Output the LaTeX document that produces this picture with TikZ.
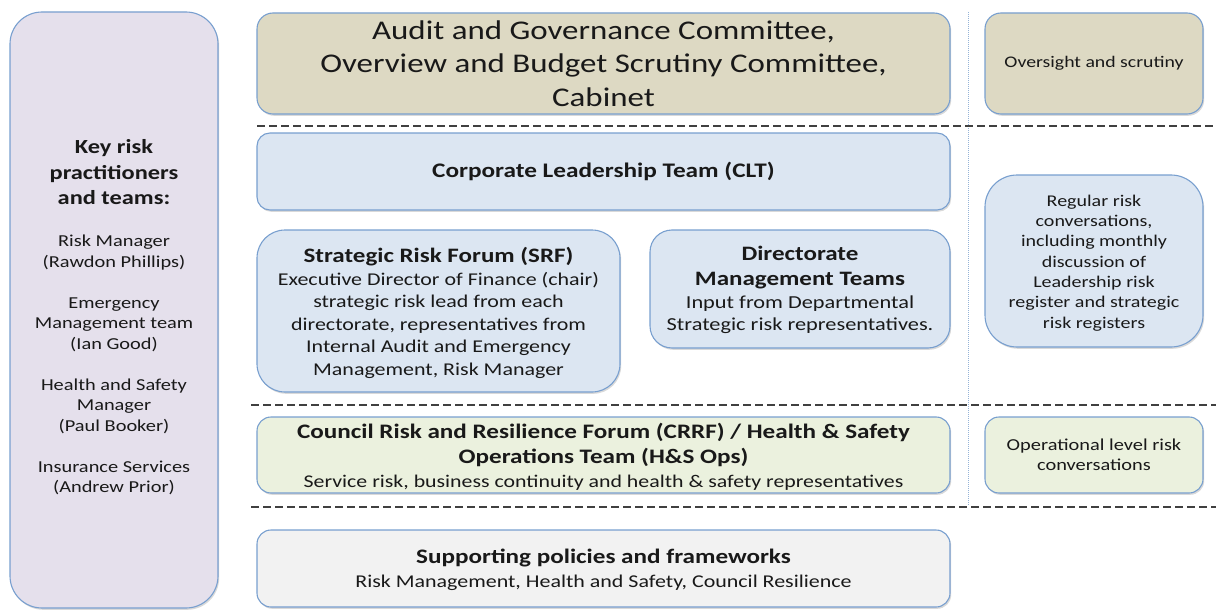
\documentclass[tikz,border=0pt]{standalone}
\usepackage{fontspec}
\setmainfont{Carlito}[FakeStretch=1.22]
\usetikzlibrary{shadows}
\definecolor{bordc}{HTML}{789FCF}
\definecolor{lavfill}{HTML}{E5E0EC}
\definecolor{tanfill}{HTML}{DDD9C3}
\definecolor{bluefill}{HTML}{DCE6F2}
\definecolor{greenfill}{HTML}{EBF1DE}
\definecolor{greyfill}{HTML}{F2F2F2}
\definecolor{dotc}{HTML}{95B3D7}
\tikzset{
  box/.style={draw=bordc, line width=1.1pt, align=flush center, inner sep=0pt,
    text=black!90,
    drop shadow={shadow xshift=1.2pt, shadow yshift=-1.8pt, opacity=0.25, fill=black!60}},
  sep/.style={draw=black!75, line width=1.2pt, dash pattern=on 8pt off 4pt},
  vsep/.style={draw=dotc, line width=1pt, dash pattern=on 1pt off 1pt},
}
\newcommand{\fs}[2]{\fontsize{#1}{#2}\selectfont}
\begin{document}
\begin{tikzpicture}[x=1pt,y=-1pt]
\useasboundingbox (0,0) rectangle (1216,610);
% separators
\coordinate (d1a) at (257,126); \coordinate (d1b) at (1216,126);
\coordinate (d2a) at (251,405); \coordinate (d2b) at (1216,405);
\coordinate (d3a) at (251,507); \coordinate (d3b) at (1216,507);
\coordinate (va) at (968,12); \coordinate (vb) at (968,505);
\draw[vsep] (va) -- (vb);
\draw[sep] (d1a) -- (d1b);
\draw[sep] (d2a) -- (d2b);
\draw[sep] (d3a) -- (d3b);
% left box
\node[box, fill=lavfill, minimum width=208pt, minimum height=596pt, rounded corners=32pt] (left) at (114,310) {};
\node[align=flush center, inner sep=0pt, text=black!90, text width=204pt] (lefttext) at (114,317.5) {%
  {\fs{20}{25.5}\bfseries Key risk\\practitioners\\and teams:\par}\vspace{21.5pt}%
  {\fs{16.7}{20.5}Risk Manager\\(Rawdon Phillips)\\[20.5pt]
  Emergency\\Management team\\(Ian Good)\\[20.5pt]
  Health and Safety\\Manager\\(Paul Booker)\\[20.5pt]
  Insurance Services\\(Andrew Prior)\par}};
% top row
\node[box, fill=tanfill, minimum width=693pt, minimum height=101pt, rounded corners=16pt, text width=685pt, font=\fs{27}{33.5}] (audit) at (603.5,63.5)
  {Audit and Governance Committee,\\Overview and Budget Scrutiny Committee,\\Cabinet};
\node[box, fill=tanfill, minimum width=218pt, minimum height=101pt, rounded corners=16pt, text width=214pt, font=\fs{16.2}{20}] (over) at (1094,63.5)
  {Oversight and scrutiny};
% CLT
\node[box, fill=bluefill, minimum width=693pt, minimum height=77pt, rounded corners=13pt, text width=685pt, font=\fs{20.7}{24}\bfseries] (clt) at (603.5,171.5)
  {Corporate Leadership Team (CLT)};
% SRF
\node[box, fill=bluefill, minimum width=363pt, minimum height=162pt, rounded corners=28pt, text width=359pt] (srf) at (438.5,311)
  {{\fs{20.5}{24}\bfseries Strategic Risk Forum (SRF)\par}%
   {\fs{18}{22.6}Executive Director of Finance (chair)\\strategic risk lead from each\\directorate, representatives from\\Internal Audit and Emergency\\Management, Risk Manager\par}\vspace{-4pt}};
% DMT
\node[box, fill=bluefill, minimum width=300pt, minimum height=118pt, rounded corners=22pt, text width=296pt] (dmt) at (800,289)
  {{\fs{20.5}{25}\bfseries Directorate\\Management Teams\par}%
   {\fs{18.3}{22.5}Input from Departmental\\Strategic risk representatives.\par}\vspace{-2pt}};
% Regular
\node[box, fill=bluefill, minimum width=218pt, minimum height=172pt, rounded corners=32pt, text width=214pt, font=\fs{16.4}{20.3}] (reg) at (1094,261)
  {Regular risk\\conversations,\\including monthly\\discussion of\\Leadership risk\\register and strategic\\risk registers\par\vspace{-4pt}};
% CRRF
\node[box, fill=greenfill, minimum width=693pt, minimum height=76pt, rounded corners=14pt, text width=685pt] (crrf) at (603.5,455)
  {{\fs{20.6}{25}\bfseries Council Risk and Resilience Forum (CRRF) / Health \& Safety\\Operations Team (H\&S Ops)\par}%
   {\fs{17.9}{24}Service risk, business continuity and health \& safety representatives\par}\vspace{-4pt}};
\node[box, fill=greenfill, minimum width=218pt, minimum height=76pt, rounded corners=14pt, text width=214pt, font=\fs{16.7}{20}] (oper) at (1094,455)
  {Operational level risk\\conversations};
% Supporting
\node[box, fill=greyfill, minimum width=693pt, minimum height=77pt, rounded corners=14pt, text width=685pt] (supp) at (603.5,568.5)
  {{\fs{20.6}{24}\bfseries Supporting policies and frameworks\par}%
   {\fs{18}{24}Risk Management, Health and Safety, Council Resilience\par}\vspace{-3pt}};
\end{tikzpicture}
\end{document}
